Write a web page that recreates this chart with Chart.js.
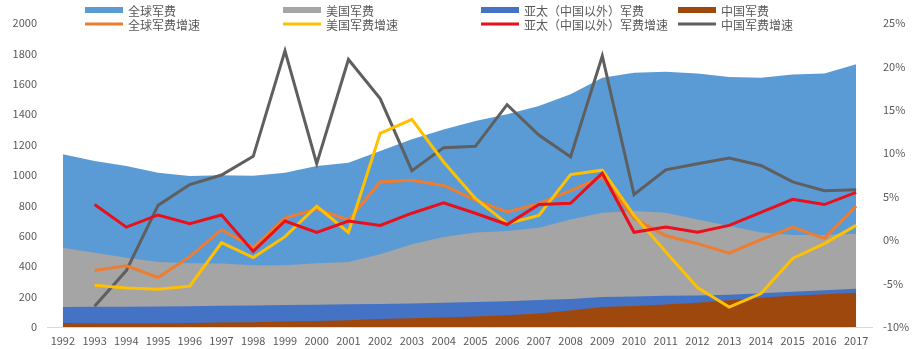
<!DOCTYPE html>
<html>
<head>
<meta charset="utf-8">
<script src="https://cdn.jsdelivr.net/npm/chart.js@4/dist/chart.umd.min.js"></script>
<style>
    html, body { margin: 0; padding: 0; background: #fff; }
    #wrap { position: relative; width: 920px; height: 349px; }
</style>
</head>
<body>
<div id="wrap"><canvas id="spendChart" width="920" height="349"></canvas></div>
<script>
const years = ['1992', '1993', '1994', '1995', '1996', '1997', '1998', '1999', '2000', '2001', '2002', '2003', '2004',
    '2005', '2006', '2007', '2008', '2009', '2010', '2011', '2012', '2013', '2014', '2015', '2016', '2017'];

// 军费（十亿美元）
const globalSpend = [1136, 1092, 1059, 1015, 993, 998, 995, 1015, 1059, 1081, 1158, 1235, 1300, 1355, 1399, 1454, 1531, 1640, 1673, 1680, 1667, 1645, 1640, 1662, 1667, 1728];
const usSpend = [522, 489, 456, 427, 419, 417, 406, 406, 419, 427, 478, 544, 592, 621, 632, 653, 708, 752, 763, 752, 708, 664, 621, 605, 605, 614];
const apacSpend = [132, 133, 134, 135, 137, 140, 142, 144, 147, 149, 151, 155, 160, 165, 170, 177, 185, 197, 201, 205, 208, 212, 222, 232, 242, 252];
const chinaSpend = [26, 24, 25, 25, 27, 29, 32, 36, 40, 45, 52, 57, 63, 69, 78, 88, 108, 131, 138, 148, 160, 176, 192, 206, 216, 226];

// 增速（%）
const globalGrowth = [null, -3.5, -2.95, -4.3, -1.9, 1.2, -0.85, 2.55, 3.6, 2.3, 6.7, 6.9, 6.3, 4.6, 3.25, 4.2, 5.7, 7.3, 2.5, 0.5, -0.4, -1.5, 0.05, 1.5, 0.2, 3.9];
const usGrowth = [null, -5.2, -5.5, -5.65, -5.3, -0.3, -2.0, 0.4, 3.9, 0.9, 12.3, 13.9, 9.0, 4.8, 1.9, 2.85, 7.55, 8.05, 2.85, -1.35, -5.45, -7.7, -6.15, -2.1, -0.4, 1.7];
const apacGrowth = [null, 4.1, 1.5, 2.9, 1.9, 2.9, -1.3, 2.2, 0.9, 2.2, 1.7, 3.1, 4.3, 3.1, 1.8, 4.1, 4.25, 7.7, 0.9, 1.5, 0.9, 1.7, 3.2, 4.7, 4.1, 5.5];
const chinaGrowth = [null, -7.6, -3.5, 4.0, 6.4, 7.5, 9.65, 21.8, 8.8, 20.8, 16.3, 8.0, 10.65, 10.8, 15.6, 12.1, 9.6, 21.2, 5.25, 8.1, 8.8, 9.46, 8.6, 6.7, 5.7, 5.8];

const leftTicks = [0, 200, 400, 600, 800, 1000, 1200, 1400, 1600, 1800, 2000];
const rightTicks = [-10, -5, 0, 5, 10, 15, 20, 25];

const textColor = '#595959';
const fontFamily = '"Noto Sans CJK SC", "Noto Sans", sans-serif';

const area = (label, data, color, order) => ({
    type: 'line', label, data, order,
    yAxisID: 'y',
    backgroundColor: color, borderColor: color, borderWidth: 0,
    fill: 'origin', pointRadius: 0, tension: 0,
});

const line = (label, data, color, order) => ({
    type: 'line', label, data, order,
    yAxisID: 'y1',
    borderColor: color, backgroundColor: color, borderWidth: 3,
    fill: false, pointRadius: 0, tension: 0, spanGaps: false,
});

// legend drawn at fixed columns, like the Excel one
const legendPlugin = {
    id: 'fixedLegend',
    afterDraw: (chart) => {
        const ctx = chart.ctx;
        const cols = [85, 283, 481, 678];
        const rows = [10, 24];
        ctx.save();
        ctx.font = '12px ' + fontFamily;
        ctx.textBaseline = 'middle';
        chart.data.datasets.forEach((ds, i) => {
            const x = cols[i % 4];
            const y = rows[Math.floor(i / 4)];
            if (ds.fill) {
                ctx.fillStyle = ds.backgroundColor;
                ctx.fillRect(x, y - 3, 38, 6);
            } else {
                ctx.strokeStyle = ds.borderColor;
                ctx.lineWidth = 3;
                ctx.beginPath();
                ctx.moveTo(x, y);
                ctx.lineTo(x + 38, y);
                ctx.stroke();
            }
            ctx.fillStyle = textColor;
            ctx.fillText(ds.label, x + 43, y + 1);
        });
        ctx.restore();
    },
};

const spendChart = () => {
    const ctx = document.getElementById('spendChart').getContext('2d');
    new Chart(ctx, {
        data: {
            labels: years,
            datasets: [
                area('全球军费', globalSpend, '#5B9BD5', 13),
                area('美国军费', usSpend, '#A5A5A5', 12),
                area('亚太（中国以外）军费', apacSpend, '#4472C4', 11),
                area('中国军费', chinaSpend, '#9E480E', 10),
                line('全球军费增速', globalGrowth, '#ED7D31', 2),
                line('美国军费增速', usGrowth, '#FFC000', 1),
                line('亚太（中国以外）军费增速', apacGrowth, '#E8101A', 0),
                line('中国军费增速', chinaGrowth, '#5F5F5F', 3),
            ],
        },
        plugins: [legendPlugin],
        options: {
            responsive: false,
            animation: false,
            layout: { padding: { top: 23, left: 0, right: 0, bottom: 0 } },
            plugins: {
                legend: { display: false },
                tooltip: { enabled: false },
            },
            scales: {
                x: {
                    offset: true,
                    grid: { display: false, drawTicks: false },
                    border: { display: true, color: '#D9D9D9', width: 1 },
                    ticks: {
                        color: textColor, font: { family: fontFamily, size: 11 },
                        autoSkip: false, maxRotation: 0, padding: 7,
                    },
                    afterFit: (s) => { s.height = 22; },
                },
                y: {
                    position: 'left',
                    min: 0, max: 2000,
                    afterBuildTicks: (s) => { s.ticks = leftTicks.map(v => ({ value: v })); },
                    grid: { display: false, drawTicks: false },
                    border: { display: false },
                    ticks: {
                        color: textColor, font: { family: fontFamily, size: 11 }, padding: 10,
                        callback: (v) => String(v),
                    },
                    afterFit: (s) => { s.width = 47; },
                },
                y1: {
                    position: 'right',
                    min: -10, max: 25,
                    afterBuildTicks: (s) => { s.ticks = rightTicks.map(v => ({ value: v })); },
                    grid: { display: false, drawTicks: false },
                    border: { display: false },
                    ticks: {
                        color: textColor, font: { family: fontFamily, size: 11 }, padding: 11,
                        callback: (v) => v + '%',
                    },
                    afterFit: (s) => { s.width = 48; },
                },
            },
        },
    });
};

window.onload = () => {
    spendChart();
};
</script>
</body>
</html>
